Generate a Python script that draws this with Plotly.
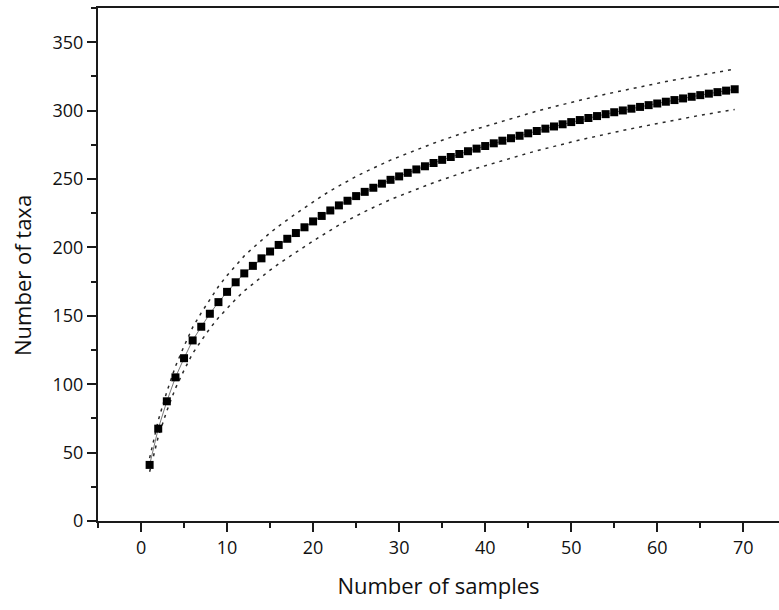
import plotly.graph_objects as go

samples = list(range(1, 70))
taxa = [41, 67.5, 87.5, 105, 119, 132, 142, 151.5, 160, 167.5,
        174.5, 181, 186.5, 192, 197, 201.8, 206.3, 210.5, 214.7, 219,
        223, 227, 230.7, 234.1, 237.5, 240.6, 243.6, 246.6, 249.4, 251.9,
        254.5, 257, 259.3, 261.7, 264, 266.1, 268.3, 270.3, 272.2, 274.1,
        276.1, 278, 279.8, 281.6, 283.4, 285.1, 286.8, 288.4, 290, 291.6,
        293.1, 294.6, 296, 297.4, 298.8, 300.1, 301.4, 302.7, 304, 305.2,
        306.5, 307.7, 308.9, 310.1, 311.3, 312.4, 313.5, 314.6, 315.6]
upper = [46, 73.5, 94.5, 113, 127.8, 141.5, 152.2, 162.3, 171.4, 179.5,
         186.9, 193.8, 199.6, 205.4, 210.6, 215.6, 220.3, 224.6, 228.9, 233.3,
         237.4, 241.4, 245.1, 248.5, 251.9, 255, 258, 261, 263.8, 266.3,
         268.9, 271.4, 273.7, 276.1, 278.4, 280.5, 282.7, 284.7, 286.6, 288.5,
         290.5, 292.5, 294.3, 296.1, 297.9, 299.6, 301.3, 302.9, 304.6, 306.2,
         307.7, 309.2, 310.6, 312, 313.4, 314.8, 316.1, 317.4, 318.7, 319.9,
         321.2, 322.4, 323.6, 324.8, 326, 327.1, 328.2, 329.3, 330.4]
lower = [36, 61.5, 80.5, 97, 110.2, 122.5, 131.8, 140.7, 148.6, 155.5,
         162.1, 168.2, 173.4, 178.6, 183.4, 188, 192.3, 196.4, 200.5, 204.7,
         208.6, 212.6, 216.3, 219.7, 223.1, 226.2, 229.2, 232.2, 235, 237.5,
         240.1, 242.6, 244.9, 247.3, 249.6, 251.7, 253.9, 255.9, 257.8, 259.7,
         261.7, 263.5, 265.3, 267.1, 268.9, 270.6, 272.3, 273.9, 275.4, 277,
         278.5, 280, 281.4, 282.8, 284.2, 285.5, 286.8, 288.1, 289.4, 290.6,
         291.8, 293, 294.2, 295.4, 296.6, 297.7, 298.8, 299.9, 300.8]

x_title = "Number of samples"
y_title = "Number of taxa"

fig = go.Figure()
for bound in (upper, lower):
    fig.add_trace(go.Scatter(
        x=samples, y=bound, mode="lines",
        line=dict(color="#2a2a2a", width=1.5, dash="3px,5px"),
        showlegend=False, hoverinfo="skip"))
fig.add_trace(go.Scatter(
    x=samples, y=taxa, mode="lines+markers",
    line=dict(color="#555555", width=0.8),
    marker=dict(symbol="square", size=8, color="black"),
    showlegend=False))

font = "Open Sans, Calibri, sans-serif"
axis_common = dict(
    showline=True, linecolor="#1a1a1a", linewidth=2,
    ticks="outside", ticklen=9, tickwidth=2, tickcolor="#1a1a1a",
    showgrid=False, zeroline=False,
    tickfont=dict(family=font, size=18, color="#111111"),
)
fig.update_layout(
    width=779, height=610,
    margin=dict(l=98, r=0, t=8, b=89),
    paper_bgcolor="white", plot_bgcolor="white",
    xaxis=dict(range=[-5, 74.15], tickmode="array", tickvals=[0, 10, 20, 30, 40, 50, 60, 70],
               minor=dict(tickvals=[-5, 5, 15, 25, 35, 45, 55, 65], ticks="outside", ticklen=5,
                          tickwidth=2, tickcolor="#1a1a1a"),
               mirror=True,
               title=dict(text=x_title, font=dict(family=font, size=22, color="#111111"), standoff=21),
               **axis_common),
    yaxis=dict(range=[0, 375], tickmode="array", tickvals=[0, 50, 100, 150, 200, 250, 300, 350],
               minor=dict(tickvals=[25, 75, 125, 175, 225, 275, 325, 375], ticks="outside", ticklen=5,
                          tickwidth=2, tickcolor="#1a1a1a"),
               **axis_common),
    annotations=[dict(text=y_title, xref="paper", yref="paper", x=-0.1116, y=0.4776,
                      xanchor="center", yanchor="middle", textangle=-90, showarrow=False,
                      font=dict(family=font, size=22, color="#111111"))],
)
fig.write_html("out.html")
